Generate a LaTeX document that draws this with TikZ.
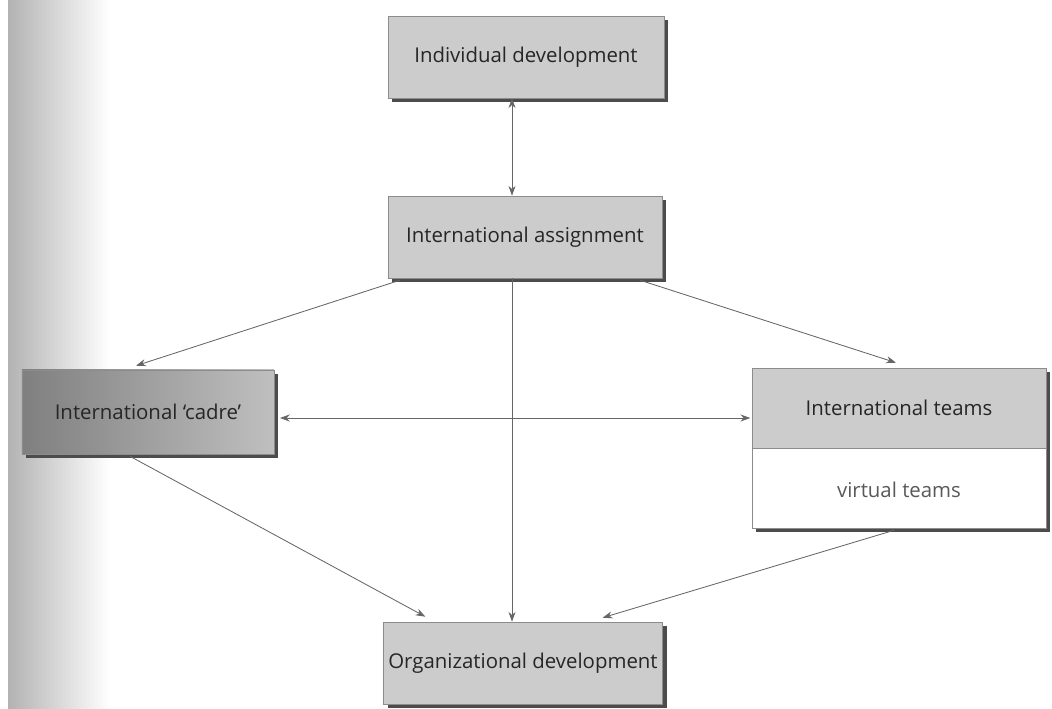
\documentclass[tikz,border=0pt]{standalone}
\usepackage{fontspec}
\setmainfont{Open Sans}
\usetikzlibrary{arrows.meta,calc,shadows}

\begin{document}
\begin{tikzpicture}[x=0.025cm, y=-0.025cm,
  every node/.style = {draw=black!45, align=center, text=black!85,
    font=\fontsize{14.5}{16}\selectfont},
  stage/.style = {fill=black!20, minimum width=6.9cm, minimum height=2.05cm,
    drop shadow={shadow xshift=3pt, shadow yshift=-3pt, fill=black!70, opacity=1}},
  link/.style = {draw=black!60, line width=0.6pt, -{Stealth[length=7pt,width=5pt]}},
  twolink/.style = {link, {Stealth[length=7pt,width=5pt]}-{Stealth[length=7pt,width=5pt]}}]
  \useasboundingbox (0,0) rectangle (1052,709);
  % scanned page edge
  \shade[left color=black!30, right color=white] (8,0) rectangle (110,709);

  \node[stage] (indiv) at (526,57) {Individual development};
  \node[stage, minimum width=6.85cm] (assign) at (525,237) {International assignment};
  \node[stage, left color=black!50, right color=black!25, minimum width=6.3cm,
    minimum height=2.1cm] (cadre) at (148,412) {International `cadre'};
  \node[stage, fill=white, minimum width=7.35cm, minimum height=4cm] (teambox) at (899,448) {};
  \node[fill=black!20, minimum width=7.35cm, minimum height=2cm] (teams) at (899,408)
    {International teams};
  \node[draw=none, text=black!65] (virtual) at (899,490) {virtual teams};
  \node[stage] (orgdev) at (523,663) {Organizational development};

  \coordinate (spine) at (512,0);
  \coordinate (mid) at ($(cadre.east)+(0,6)$);

  \draw[twolink] (indiv.south -| spine) -- (assign.north -| spine);
  \draw[link] (assign.south -| spine) -- (orgdev.north -| spine);
  \draw[link] ($(assign.south west)+(12,2)$) -- ($(cadre.north)+(-12,-4)$);
  \draw[link] ($(assign.south east)+(-22,2)$) -- ($(teambox.north)+(-3,-5)$);
  \draw[twolink, shorten <=4pt, shorten >=1pt] (mid) -- (mid -| teams.west);
  \draw[link] ($(cadre.south)+(-18,2)$) -- ($(orgdev.north west)+(42,-5)$);
  \draw[link] ($(teambox.south)+(-5,2)$) -- ($(orgdev.north east)+(-60,-4)$);
\end{tikzpicture}
\end{document}
